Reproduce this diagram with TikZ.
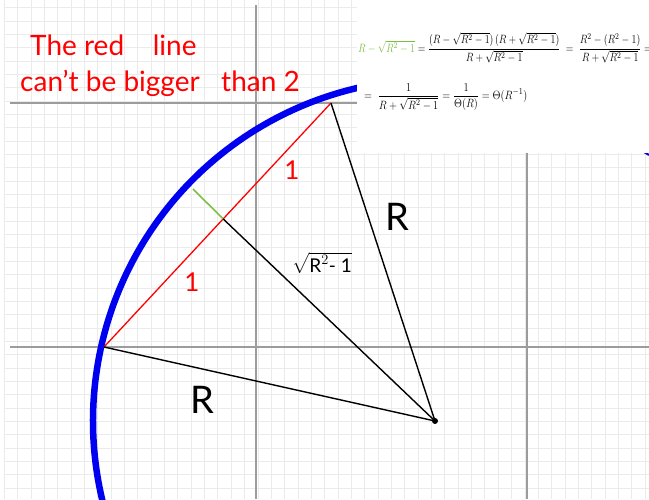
\documentclass[tikz,border=0pt]{standalone}
\usepackage{fontspec}
\setsansfont{Lato}
\usepackage{amsmath}
\usepackage{graphicx}
\usetikzlibrary{positioning, calc}
\definecolor{gridgrey}{HTML}{EBEBEB}
\definecolor{axisgrey}{HTML}{9C9C9C}
\definecolor{gapgreen}{HTML}{7DBF46}
\definecolor{rimblue}{HTML}{0000F0}

\begin{document}
\begin{tikzpicture}[
        x=1pt, y=-1pt,
        gridline/.style={draw=gridgrey, line width=0.7pt},
        axisline/.style={draw=axisgrey, line width=1.8pt},
        rim/.style={draw=rimblue, line width=6.5pt},
        side/.style={draw=black, line width=1.4pt},
        chord/.style={draw=red, line width=1.3pt},
        gapline/.style={draw=gapgreen, line width=1.6pt},
        note/.style={text=red, font=\sffamily\fontsize{28}{32}\selectfont, inner sep=0pt, anchor=base west},
        lbl/.style={font=\sffamily\fontsize{38}{42}\selectfont, inner sep=0pt},
        formula/.style={font=\fontsize{13}{15}\selectfont, inner sep=0pt, anchor=west}
    ]
    \useasboundingbox (0,0) rectangle (649,499);

    % Grid
    \foreach \k in {0,...,48}
        \draw[gridline] (4.2+13.35*\k,0) -- (4.2+13.35*\k,499);
    \foreach \k in {0,...,36}
        \draw[gridline] (4.2,7.5+13.35*\k) -- (649,7.5+13.35*\k);

    % Axes
    \draw[axisline] (10,347) -- (649,347);
    \draw[axisline] (10,103) -- (357,103);
    \draw[axisline] (256,5) -- (256,499);
    \draw[axisline] (527,153) -- (527,499);

    % Points
    \coordinate (C) at (435,421);
    \coordinate (A) at (104,347);
    \coordinate (B) at (331,103);
    \coordinate (M) at ($(A)!0.525!(B)$);
    \coordinate (G) at (193,189);

    % Circle
    \draw[rim] (C) ++(166:342) arc[start angle=166, end angle=258, radius=342];
    \draw[rimblue, line width=2pt] (644,152) -- (649,155);

    % Formula area
    \fill[white] (357,0) rectangle (649,153);

    % Edges
    \draw[chord] (A) -- (B);
    \draw[gapline] (M) -- (G);
    \draw[side] (C) -- (A);
    \draw[side] (C) -- (B);
    \draw[side] (C) -- (M);
    \fill (C) circle (3);

    % Labels
    \node[note] (title) at (30,55) {The red\ \ \ \ line};
    \node[note] (limit) at (20,91) {can't be bigger\ \ \ than 2};
    \node[lbl, text=red, font=\sffamily\fontsize{26}{30}\selectfont] (one1) at (292,170) {1};
    \node[lbl, text=red, font=\sffamily\fontsize{26}{30}\selectfont] (one2) at (192,282) {1};
    \node[lbl] (rtop) at (397,217) {R};
    \node[lbl] (rbot) at (202,400) {R};
    \node[font=\fontsize{19}{22}\selectfont, inner sep=0pt] (root) at (322,263)
        {$\sqrt{\textsf{R}^{2}\textsf{- 1}}$};

    % Formula
    \node[formula] (line1) at (358,48)
        {\scalebox{0.83}[1]{$\color{gapgreen}R-\sqrt{R^2-1}\color{black}
          = \dfrac{(R-\sqrt{R^2-1})\,(R+\sqrt{R^2-1})}{R+\sqrt{R^2-1}}
          \; = \; \dfrac{R^2-(R^2-1)}{R+\sqrt{R^2-1}} =$}};
    \node[formula] (line2) at (364,97)
        {\scalebox{0.87}[1]{$= \;\dfrac{1}{R+\sqrt{R^2-1}} = \dfrac{1}{\Theta(R)} = \Theta(R^{-1})$}};

\end{tikzpicture}
\end{document}
